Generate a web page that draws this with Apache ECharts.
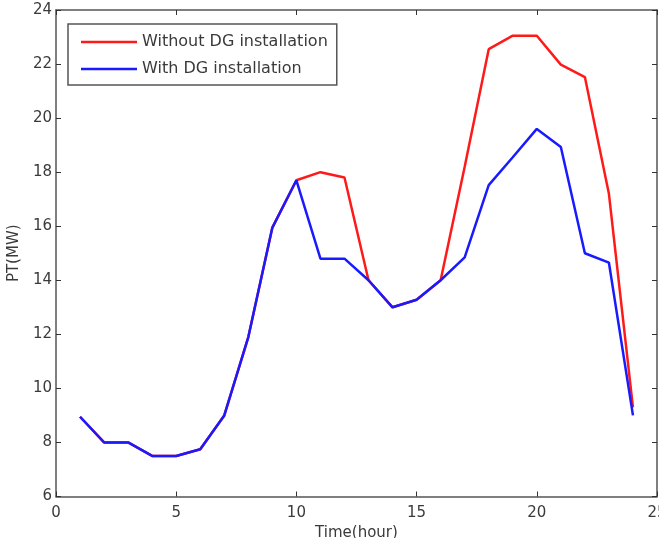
<!DOCTYPE html>
<html>
<head>
<meta charset="utf-8">
<script src="https://cdn.jsdelivr.net/npm/echarts@6/dist/echarts.min.js"></script>
<style>
  html, body { margin: 0; padding: 0; background: #fff; }
  #chart { width: 659px; height: 538px; }
</style>
</head>
<body>
<div id="chart"></div>
<script>
// Hourly load profile (hours 1..24), MW
const hours = [1, 2, 3, 4, 5, 6, 7, 8, 9, 10, 11, 12, 13, 14, 15, 16, 17, 18, 19, 20, 21, 22, 23, 24];
const withoutDG = [8.95, 8.0, 8.0, 7.5, 7.5, 7.75, 9.0, 11.9, 15.95, 17.7, 18.0, 17.8, 14.0, 13.0, 13.28, 14.0, 18.2, 22.55, 23.05, 23.05, 21.98, 21.52, 17.2, 9.3];
const withDG = [8.95, 8.0, 8.0, 7.5, 7.5, 7.75, 9.0, 11.9, 15.95, 17.7, 14.8, 14.8, 14.0, 13.0, 13.28, 14.0, 14.85, 17.52, 18.55, 19.6, 18.93, 15.0, 14.65, 9.0];
const xTicks = [0, 5, 10, 15, 20, 25];
const yTicks = [6, 8, 10, 12, 14, 16, 18, 20, 22, 24];
const seriesNames = ['Without DG installation', 'With DG installation'];

const frame = '#555';
const font = 'DejaVu Sans, Verdana, sans-serif';
const textColor = '#3a3a3a';

const pairs = (ys) => hours.map((h, i) => [h, ys[i]]);

const chart = echarts.init(document.getElementById('chart'));
const baseX = {
  type: 'value', min: xTicks[0], max: xTicks[xTicks.length - 1], interval: 5,
  axisLine: { show: true, onZero: false, lineStyle: { color: frame, width: 1.5 } },
  axisTick: { show: true, inside: true, length: 5, lineStyle: { color: '#333', width: 1 } },
  splitLine: { show: false }
};
const baseY = {
  type: 'value', min: yTicks[0], max: yTicks[yTicks.length - 1], interval: 2,
  axisLine: { show: true, onZero: false, lineStyle: { color: frame, width: 1.5 } },
  axisTick: { show: true, inside: true, length: 5, lineStyle: { color: '#333', width: 1 } },
  splitLine: { show: false }
};

chart.setOption({
  backgroundColor: '#fff',
  animation: false,
  grid: { left: 56, right: 2, top: 10, bottom: 41.5, outerBoundsMode: 'none', containLabel: false },
  legend: {
    data: seriesNames,
    orient: 'vertical',
    left: 68, top: 24,
    padding: [9, 9, 7, 13],
    itemGap: 9,
    itemWidth: 56,
    itemHeight: 2.5,
    icon: 'path://M0,0 H56 V2.5 H0 Z',
    borderColor: frame,
    borderWidth: 1.5,
    borderRadius: 0,
    backgroundColor: '#fff',
    textStyle: { fontFamily: font, fontSize: 16, color: textColor, lineHeight: 18 }
  },
  xAxis: [
    Object.assign({}, baseX, {
      position: 'bottom',
      name: 'Time(hour)', nameLocation: 'middle', nameGap: 20,
      nameTextStyle: { fontFamily: font, fontSize: 15, color: textColor },
      axisLabel: { fontFamily: font, fontSize: 15, color: textColor, margin: 9 }
    }),
    Object.assign({}, baseX, { position: 'top', axisLabel: { show: false } })
  ],
  yAxis: [
    Object.assign({}, baseY, {
      position: 'left',
      name: 'PT(MW)', nameLocation: 'middle', nameGap: 25,
      nameTextStyle: { fontFamily: font, fontSize: 15, color: textColor },
      axisLabel: { fontFamily: font, fontSize: 15, color: textColor, margin: 4 }
    }),
    Object.assign({}, baseY, { position: 'right', axisLabel: { show: false } })
  ],
  series: [
    {
      name: seriesNames[0], type: 'line', data: pairs(withoutDG),
      symbol: 'none', color: '#ff1a1a',
      lineStyle: { width: 2.5, color: '#ff1a1a' }, z: 2
    },
    {
      name: seriesNames[1], type: 'line', data: pairs(withDG),
      symbol: 'none', color: '#1a1aff',
      lineStyle: { width: 2.5, color: '#1a1aff' }, z: 3
    }
  ]
});
</script>
</body>
</html>
